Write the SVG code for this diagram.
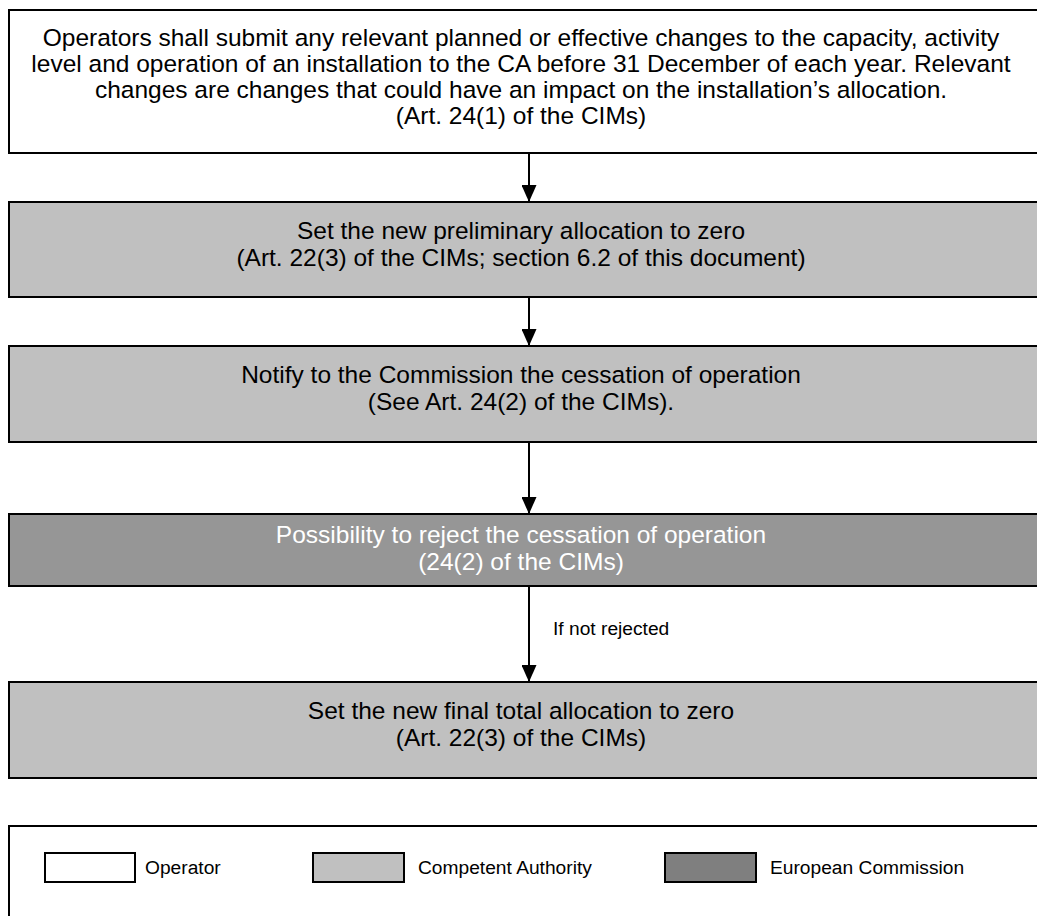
<svg xmlns="http://www.w3.org/2000/svg" width="1037" height="916" viewBox="0 0 1037 916">
  <style>
    .box { stroke: #000; stroke-width: 2; }
    .op { fill: #ffffff; }
    .ca { fill: #c0c0c0; }
    .ec { fill: #969696; }
    .ec-key { fill: #7f7f7f; }
    .t { font-family: "Liberation Sans", Arial, sans-serif; font-size: 24.5px; fill: #000; text-anchor: middle; }
    .t-light { fill: #ffffff; }
    .small { font-family: "Liberation Sans", Arial, sans-serif; font-size: 19.2px; fill: #000; }
    .edge { stroke: #000; stroke-width: 2; fill: none; }
  </style>
  <defs>
    <marker id="arrow" viewBox="0 0 17 15" refX="17" refY="7.5" markerWidth="17" markerHeight="15" markerUnits="userSpaceOnUse" orient="auto">
      <path d="M0,0 L17,7.5 L0,15 z" fill="#000"/>
    </marker>
  </defs>

  <rect width="1037" height="916" fill="#ffffff"/>

  <!-- Operator submits changes -->
  <g id="node-submit">
    <rect class="box op" x="9" y="10" width="1045" height="143"/>
    <text class="t" x="521" y="46">Operators shall submit any relevant planned or effective changes to the capacity, activity</text>
    <text class="t" x="521" y="72">level and operation of an installation to the CA before 31 December of each year. Relevant</text>
    <text class="t" x="521" y="98">changes are changes that could have an impact on the installation’s allocation.</text>
    <text class="t" x="521" y="124">(Art. 24(1) of the CIMs)</text>
  </g>

  <!-- Preliminary allocation -->
  <g id="node-preliminary">
    <rect class="box ca" x="9" y="202" width="1045" height="95"/>
    <text class="t" x="521" y="239">Set the new preliminary allocation to zero</text>
    <text class="t" x="521" y="266">(Art. 22(3) of the CIMs; section 6.2 of this document)</text>
  </g>

  <!-- Notification to the Commission -->
  <g id="node-notify">
    <rect class="box ca" x="9" y="346" width="1045" height="96"/>
    <text class="t" x="521" y="383">Notify to the Commission the cessation of operation</text>
    <text class="t" x="521" y="410">(See Art. 24(2) of the CIMs).</text>
  </g>

  <!-- Commission review -->
  <g id="node-reject">
    <rect class="box ec" x="9" y="514" width="1045" height="72"/>
    <text class="t t-light" x="521" y="543">Possibility to reject the cessation of operation</text>
    <text class="t t-light" x="521" y="570">(24(2) of the CIMs)</text>
  </g>

  <!-- Final allocation -->
  <g id="node-final">
    <rect class="box ca" x="9" y="682" width="1045" height="96"/>
    <text class="t" x="521" y="719">Set the new final total allocation to zero</text>
    <text class="t" x="521" y="746">(Art. 22(3) of the CIMs)</text>
  </g>

  <!-- Connectors -->
  <g id="connectors">
    <line class="edge" x1="529" y1="153" x2="529" y2="202" marker-end="url(#arrow)"/>
    <line class="edge" x1="529" y1="297" x2="529" y2="346" marker-end="url(#arrow)"/>
    <line class="edge" x1="529" y1="442" x2="529" y2="514" marker-end="url(#arrow)"/>
    <line class="edge" x1="529" y1="586" x2="529" y2="682" marker-end="url(#arrow)"/>
    <text class="small" x="553" y="635">If not rejected</text>
  </g>

  <!-- Legend -->
  <g id="legend">
    <rect class="box op" x="9" y="826" width="1045" height="100"/>
    <rect class="box op" x="45" y="853" width="90" height="29"/>
    <text class="small" x="145" y="874">Operator</text>
    <rect class="box ca" x="313" y="853" width="91" height="29"/>
    <text class="small" x="418" y="874">Competent Authority</text>
    <rect class="box ec-key" x="665" y="853" width="91" height="29"/>
    <text class="small" x="770" y="874">European Commission</text>
  </g>
</svg>
